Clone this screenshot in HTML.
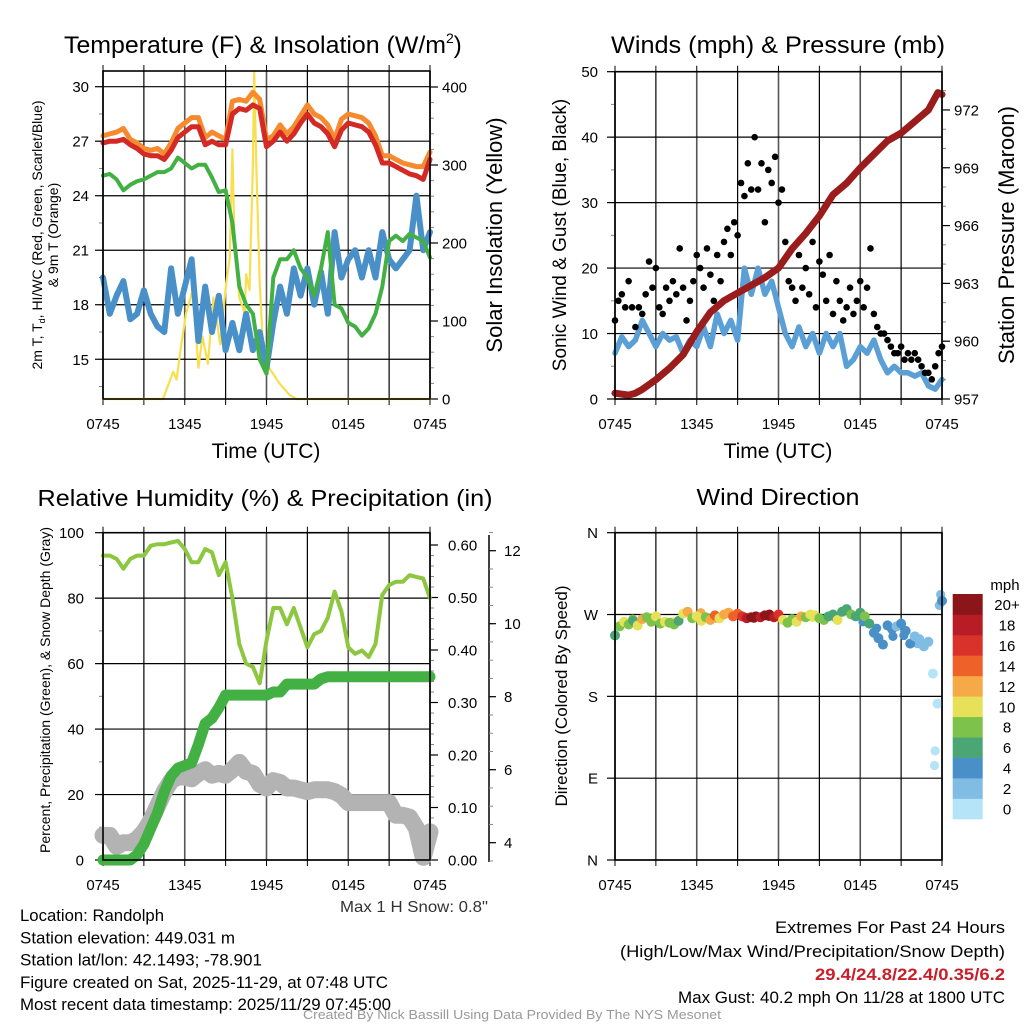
<!DOCTYPE html>
<html><head><meta charset="utf-8">
<style>
html,body{margin:0;padding:0;background:#fff;}
svg{display:block;font-family:"Liberation Sans",sans-serif;}
</style></head>
<body>
<svg id="fig" width="1024" height="1024" viewBox="0 0 1024 1024" xmlns="http://www.w3.org/2000/svg">
<rect width="1024" height="1024" fill="#fff"/>
</svg>
<script>
// ---------- DATA (half-hour steps from 0745 UTC unless noted) ----------
const timeLabels = ["0745","1345","1945","0145","0745"];
const tempRed = [26.9,27.0,27.0,27.1,26.8,26.6,26.3,26.2,26.2,26.0,26.5,27.2,27.5,27.8,27.8,26.8,27.0,26.8,26.8,28.5,28.8,28.7,29.0,28.8,26.7,27.0,27.5,27.0,27.4,28.0,28.5,28.0,27.8,27.4,26.7,27.6,28.0,27.9,27.8,27.5,26.8,25.8,25.8,25.6,25.4,25.2,25.1,24.9,26.0];
const tempOrange = [27.3,27.4,27.5,27.7,27.1,26.9,26.6,26.5,26.6,26.3,26.9,27.7,28.0,28.3,28.3,27.2,27.5,27.3,27.1,29.2,29.3,29.2,29.7,29.3,27.1,27.3,27.9,27.4,27.8,28.4,29.0,28.5,28.3,27.9,27.1,28.2,28.5,28.4,28.3,28.0,27.3,26.2,26.2,26.0,25.8,25.7,25.6,25.6,26.4];
const dewGreen = [25.1,25.2,24.9,24.3,24.6,24.8,24.9,25.1,25.3,25.3,25.5,26.1,25.8,25.5,25.7,25.7,25.0,24.2,24.3,22.5,19.0,18.0,17.5,15.0,14.2,19.5,20.5,20.5,21.0,20.0,19.5,18.5,20.0,22.0,18.0,17.8,17.0,16.8,16.3,16.7,17.5,19.0,21.5,21.8,21.5,21.9,21.7,21.5,20.6];
const hiwcBlue = [19.5,17.5,18.5,19.3,17.2,17.5,18.8,17.5,16.8,16.5,20.0,17.5,19.0,20.5,16.0,19.0,16.5,18.5,15.5,17.0,15.5,17.5,15.5,16.5,14.5,17.0,19.0,17.5,20.0,18.5,20.0,18.0,19.8,17.5,22.0,19.5,20.5,21.0,19.5,21.0,19.5,22.0,20.5,20.0,20.5,21.0,24.0,21.0,22.0];
const insolHours = [0,4.4,5.15,5.4,5.75,6.1,6.6,7.0,7.3,7.7,8.1,8.6,9.05,9.3,9.5,9.65,10.0,10.4,10.5,10.75,11.0,11.1,11.25,11.5,11.7,12.2,12.95,13.7,14.2,24];
const insolVals = [0,0,35,25,70,110,140,40,80,45,130,70,150,180,320,200,130,110,160,140,300,420,300,150,80,40,20,5,0,0];
const windBlue = [7,9.5,8,9,12,10,8,10,9,9.5,7,9,8,11,8,13,10,12,9,20,16,20,16,18,14,10,8,11,8,10,7,10,8,10,5,6,8,7,9,6,4,5,4,4,3.5,4,2,1.5,3];
// gusts: quarter-hour steps
const gustBlack = [12,15,16,14,18,14,11,14,13,16,21,17,20,14,13,17,15,18,16,23,17,12,15,18,22,20,17,23,19,15,22,18,24,26,22,27,25,33,31,36,32,40,32,36,27,35,33,37,30,32,24,18,17,15,22,17,20,16,24,14,21,19,15,22,13,18,15,12,14,17,13,15,18,14,17,23,13,11,10,10,9,8,7,7,8,6,7,6,7,6,5,4,4,3,5,7,8];
const pressHours = [0,1,1.5,2,3,4,5,6,7,8,9,10,11,12,13,14,15,16,17,18,19,20,21,22,23,23.7,24];
const pressVals = [957.3,957.2,957.3,957.5,958.0,958.6,959.3,960.5,961.5,962.1,962.5,962.9,963.3,963.8,964.8,965.6,966.5,967.6,968.2,969.0,969.7,970.4,970.8,971.4,972.0,972.9,972.8];
const rhVals = [93,93,92,89,92,93,93,96,96.5,96.5,97,97.5,95,91,91,95,94,87,91,80,66,60,59,54,67,77,77,72,77,71,65,69,70,74,82,76,65,63,64,62,66,81,84,85,85,87,86.5,86,80];
const precipVals = [0,0,0,0,0,0.01,0.03,0.06,0.09,0.13,0.16,0.175,0.18,0.185,0.22,0.26,0.27,0.29,0.314,0.314,0.314,0.314,0.314,0.314,0.314,0.32,0.32,0.335,0.335,0.335,0.335,0.335,0.345,0.349,0.349,0.349,0.349,0.349,0.349,0.349,0.349,0.349,0.349,0.349,0.349,0.349,0.349,0.349,0.349];
const snowVals = [4.2,4.2,3.9,4.0,4.0,4.1,4.3,4.6,5.0,5.4,5.7,5.8,5.8,5.75,5.9,6.0,5.85,5.9,5.85,6.0,6.2,5.95,5.9,5.6,5.5,5.7,5.65,5.5,5.5,5.45,5.4,5.45,5.45,5.45,5.4,5.3,5.1,5.1,5.1,5.1,5.1,5.1,5.1,4.75,4.75,4.7,4.4,3.6,4.3];
// wind direction: 20-minute steps
const dirVals = [247,257,262,259,263,258,265,267,262,268,260,262,261,259,263,271,273,266,268,263,267,264,269,266,270,272,268,271,268,266,267,268,267,269,270,267,270,264,261,265,262,268,267,270,269,266,264,268,270,264,273,276,270,268,272,268,260,250,244,237,258,254,257,260,252,238,246,243,235,240,205,172,285];
const dirSpeed = [6,8,10,9,7,10,12,9,8,10,9,11,8,9,7,10,12,9,10,11,8,13,14,11,12,13,15,14,16,19,20,21,18,21,20,19,17,11,9,8,10,12,9,11,10,8,9,7,6,10,6,7,8,6,7,9,6,5,4,4,5,4,3,4,5,4,3,2,2,3,1,0.5,4];
const extraDirHours = [23.5,23.45,23.8,23.9,1.3,2.7,4.2,6.3,7.5,9.5,10.2,11.3,13.2,14.5,16.2,18.2,19.2,20.4,21.2,22.2];
const extraDirVals = [120,104,280,292,265,263,262,272,266,267,266,268,263,267,266,262,255,246,247,238];
const extraDirSpeed = [0.5,0.5,3,3,9,11,10,12,14,19,21,20,9,10,7,5,4,4,5,2];
const speedColors = ["#b5e3f8","#80bce4","#4a90c8","#4aa674","#7dc24a","#e6e158","#f5a947","#ee6229","#d9322b","#b81c24","#8b1519"];
const speedLabels = ["0","2","4","6","8","10","12","14","16","18","20+"];

// ---------- helpers ----------
const NS="http://www.w3.org/2000/svg";
const svg=document.getElementById('fig');
function mk(tag, attrs, parent){
  const e=document.createElementNS(NS,tag);
  for(const k in attrs) e.setAttribute(k,attrs[k]);
  (parent||svg).appendChild(e);
  return e;
}
function txt(s, x, y, size, anchor, parent, extra, len){
  const a=Object.assign({x:x,y:y,'font-size':size,'text-anchor':anchor||'middle',fill:'#000'},extra||{});
  if(len){a.textLength=len;a.lengthAdjust='spacingAndGlyphs';}
  const t=mk('text',a,parent);
  t.textContent=s;
  return t;
}
function halfHours(i){return i*0.5;}

function panelFrame(g,P){
  for(let k=0;k<=8;k++){
    const x=P.x0+k*(P.x1-P.x0)/8;
    const l=mk('line',{x1:x,x2:x,y1:P.y0,y2:P.y1,stroke:k%2===0?'#555':'#000','stroke-width':k%2===0?1.6:1.2},g);
    
    
    const tk=mk('line',{x1:x,x2:x,y1:P.y1,y2:P.y1+6,stroke:'#000','stroke-width':1},g);
    
    
    const tt=mk('line',{x1:x,x2:x,y1:P.y0,y2:P.y0-6,stroke:'#000','stroke-width':1},g);
    
    
  }
  timeLabels.forEach((lab,i)=>{
    const t=txt(lab,P.x0+i*(P.x1-P.x0)/4,P.y1+30,15,'middle',g);
    
    
  });
}
function box(g,P){
  const r=mk('rect',{x:P.x0,y:P.y0,width:P.x1-P.x0,height:P.y1-P.y0,fill:'none',stroke:'#000','stroke-width':1.6},g);
  
  
}
function yTicks(g,P,vals,fy,labels,side,minorVals,grid,lx){
  minorVals.forEach(v=>{
    const y=fy(v);
    const x=side==='left'?P.x0:P.x1;
    const m=mk('line',{x1:x,x2:side==='left'?x-4:x+4,y1:y,y2:y,stroke:'#888','stroke-width':1},g);
    
    
  });
  vals.forEach((v,i)=>{
    const y=fy(v);
    if(grid){
      const gl=mk('line',{x1:P.x0,x2:P.x1,y1:y,y2:y,stroke:'#000','stroke-width':1.2},g);
      
      
    }
    const x=side==='left'?P.x0:P.x1;
    const tk=mk('line',{x1:x,x2:side==='left'?x-8:x+8,y1:y,y2:y,stroke:'#000','stroke-width':1.2},g);
    
    
    const t=txt(labels[i],lx,y+5.5,15,side==='left'?'end':'start',g);
    
    
  });
}
function poly(g,xs,ys,color,w,name){
  const pts=xs.map((x,i)=>x.toFixed(1)+','+ys[i].toFixed(1)).join(' ');
  const p=mk('polyline',{points:pts,fill:'none',stroke:color,'stroke-width':w,'stroke-linejoin':'round','stroke-linecap':'round'},g);
  
  
  return p;
}
function range(a,b,s){const r=[];for(let v=a;v<=b+1e-9;v+=s)r.push(+v.toFixed(4));return r;}

// ---------- Panel 1: Temperature ----------
const P1={x0:103,x1:430,y0:71,y1:399};
const x1s=h=>P1.x0+h*(P1.x1-P1.x0)/24;
const yT=t=>86.7+(30-t)*18.17;
const yI=v=>399-v*312/400;
const g1=mk('g',{});


panelFrame(g1,P1);
yTicks(g1,P1,[15,18,21,24,27,30],yT,["15","18","21","24","27","30"],'left',range(13.5,30,1.5),true,89);
yTicks(g1,P1,[0,100,200,300,400],yI,["0","100","200","300","400"],'right',range(0,400,20),false,442);
poly(g1,insolHours.map(x1s),insolVals.map(yI),'#f7df4f',2.2,'insolation-line-yellow');
poly(g1,hiwcBlue.map((v,i)=>x1s(halfHours(i))),hiwcBlue.map(yT),'#4a90c8',6,'heat-index-windchill-line-blue');
poly(g1,dewGreen.map((v,i)=>x1s(halfHours(i))),dewGreen.map(yT),'#43b044',4,'dewpoint-line-green');
poly(g1,tempOrange.map((v,i)=>x1s(halfHours(i))),tempOrange.map(yT),'#f58a2e',5,'temperature-9m-line-orange');
poly(g1,tempRed.map((v,i)=>x1s(halfHours(i))),tempRed.map(yT),'#d42a25',5,'temperature-2m-line-red');
box(g1,P1);
let t;
t=mk('text',{x:64,y:53,'font-size':24,'text-anchor':'start'},g1);
t.innerHTML='<tspan textLength="382" lengthAdjust="spacingAndGlyphs">Temperature (F) &amp; Insolation (W/m</tspan><tspan font-size="14" dy="-10">2</tspan><tspan dy="10">)</tspan>';


t=txt('Time (UTC)',266,458,21,'middle',g1);


t=mk('text',{transform:'translate(42,235) rotate(-90)','font-size':14,'text-anchor':'middle'},g1);
t.innerHTML='2m T, T<tspan font-size="9" dy="3">d</tspan><tspan dy="-3">, HI/WC (Red, Green, Scarlet/Blue)</tspan>';


t=mk('text',{transform:'translate(58,235) rotate(-90)','font-size':14,'text-anchor':'middle'},g1);
t.textContent='& 9m T (Orange)';


t=mk('text',{transform:'translate(502,235) rotate(-90)','font-size':22,'text-anchor':'middle'},g1);
t.textContent='Solar Insolation (Yellow)';



// ---------- Panel 2: Winds ----------
const P2={x0:615,x1:942,y0:71.7,y1:399};
const x2s=h=>P2.x0+h*(P2.x1-P2.x0)/24;
const yW=w=>399-w*6.546;
const yP=p=>399-(p-957)*19.27;
const g2=mk('g',{});


panelFrame(g2,P2);
yTicks(g2,P2,[0,10,20,30,40,50],yW,["0","10","20","30","40","50"],'left',range(0,50,5),true,598);
yTicks(g2,P2,[957,960,963,966,969,972],yP,["957","960","963","966","969","972"],'right',range(957,973,1),false,954);
poly(g2,windBlue.map((v,i)=>x2s(halfHours(i))),windBlue.map(yW),'#5a9fd6',5.5,'sonic-wind-line-blue');
gustBlack.forEach((v,i)=>{
  const c=mk('circle',{cx:x2s(i*0.25),cy:yW(v),r:3.3,fill:'#000'},g2);
  
  
});
poly(g2,pressHours.map(x2s),pressVals.map(yP),'#9b1c1c',7,'station-pressure-line-maroon');
box(g2,P2);
t=txt('Winds (mph) & Pressure (mb)',778,53,24,'middle',g2,null,334);


t=txt('Time (UTC)',778,458,21,'middle',g2);


t=mk('text',{transform:'translate(566,235) rotate(-90)','font-size':19,'text-anchor':'middle'},g2);
t.textContent='Sonic Wind & Gust (Blue, Black)';


t=mk('text',{transform:'translate(1014,235) rotate(-90)','font-size':22,'text-anchor':'middle'},g2);
t.textContent='Station Pressure (Maroon)';



// ---------- Panel 3: RH & Precip ----------
const P3={x0:103,x1:430,y0:532.7,y1:860};
const x3s=h=>P3.x0+h*(P3.x1-P3.x0)/24;
const yR=v=>860-v*3.273;
const yPr=v=>860-v*525;
const yS=s=>842.7-(s-4)*36.5;
const g3=mk('g',{});


panelFrame(g3,P3);
yTicks(g3,P3,[0,20,40,60,80,100],yR,["0","20","40","60","80","100"],'left',range(0,100,10),true,84);
yTicks(g3,P3,[0,0.1,0.2,0.3,0.4,0.5,0.6],yPr,["0.00","0.10","0.20","0.30","0.40","0.50","0.60"],'right',range(0,0.6,0.02),false,448);
const sa=mk('line',{x1:489,x2:489,y1:535,y2:862,stroke:'#000','stroke-width':1.5},g3);


range(3.5,12.5,0.5).forEach(v=>{
  const y=yS(v);
  const m=mk('line',{x1:489,x2:493,y1:y,y2:y,stroke:'#888','stroke-width':1},g3);
  
  
});
[4,6,8,10,12].forEach(v=>{
  const y=yS(v);
  const m=mk('line',{x1:489,x2:496,y1:y,y2:y,stroke:'#000','stroke-width':1.2},g3);
  
  
  const l=txt(String(v),504,y+5.5,15,'start',g3);
  
  
});
poly(g3,snowVals.map((v,i)=>x3s(halfHours(i))),snowVals.map(yS),'#b3b3b3',17,'snow-depth-line-gray');
poly(g3,precipVals.map((v,i)=>x3s(halfHours(i))),precipVals.map(yPr),'#43b044',11,'precipitation-line-green');
poly(g3,rhVals.map((v,i)=>x3s(halfHours(i))),rhVals.map(yR),'#8dc63f',4,'relative-humidity-line');
box(g3,P3);
t=txt('Relative Humidity (%) & Precipitation (in)',265,506,23,'middle',g3,null,455);


t=mk('text',{transform:'translate(50,690) rotate(-90)','font-size':14,'text-anchor':'middle'},g3);
t.textContent='Percent, Precipitation (Green), & Snow Depth (Gray)';


t=txt('Max 1 H Snow: 0.8"',488,912,16,'end',g3,{fill:'#333'},148);



// ---------- Panel 4: Wind Direction ----------
const P4={x0:615,x1:942,y0:532.7,y1:860};
const x4s=h=>P4.x0+h*(P4.x1-P4.x0)/24;
const yD=d=>860-d*(327.3/360);
const g4=mk('g',{});


panelFrame(g4,P4);
yTicks(g4,P4,[0,90,180,270,360],yD,["N","E","S","W","N"],'left',[],true,598);
function colorFor(s){return speedColors[Math.min(10,Math.floor(s/2))];}
extraDirVals.forEach((d,i)=>{
  const c=mk('circle',{cx:x4s(extraDirHours[i]),cy:yD(d),r:4.6,fill:colorFor(extraDirSpeed[i])},g4);
  
  
});
dirVals.forEach((d,i)=>{
  const c=mk('circle',{cx:x4s(i/3),cy:yD(d),r:5,fill:colorFor(dirSpeed[i])},g4);
  
  
});
box(g4,P4);
t=txt('Wind Direction',778,505,23,'middle',g4,null,163);


t=mk('text',{transform:'translate(567,696) rotate(-90)','font-size':17,'text-anchor':'middle'},g4);
t.textContent='Direction (Colored By Speed)';


const gl=mk('g',{});


t=txt('mph',1005,590,15,'middle',gl);


speedColors.forEach((c,i)=>{
  const k=10-i;
  const r=mk('rect',{x:952.7,y:594+k*20.45,width:30,height:20.8,fill:c},gl);
  
  
  const l=txt(speedLabels[i],1007,594+k*20.45+16,15,'middle',gl);
  
  
});

// ---------- footer texts ----------
const info=["Location: Randolph","Station elevation: 449.031 m","Station lat/lon: 42.1493; -78.901","Figure created on Sat, 2025-11-29, at 07:48 UTC","Most recent data timestamp: 2025/11/29 07:45:00"];
const infoLen=[144,215,242,368,371];
info.forEach((s,i)=>{
  const e=txt(s,20,921+i*22.3,17,'start',null,null,infoLen[i]);
  
  
});
t=txt('Extremes For Past 24 Hours',1005,933,17,'end',null,null,230);


t=txt('(High/Low/Max Wind/Precipitation/Snow Depth)',1005,957,17,'end',null,null,385);


t=txt('29.4/24.8/22.4/0.35/6.2',1005,980,17,'end',null,{fill:'#c8202a','font-weight':'bold'},190);


t=txt('Max Gust: 40.2 mph On 11/28 at 1800 UTC',1005,1003,17,'end',null,null,327);


t=txt('Created By Nick Bassill Using Data Provided By The NYS Mesonet',512,1019,13,'middle',null,{fill:'#999'},418);


</script>
</body></html>
